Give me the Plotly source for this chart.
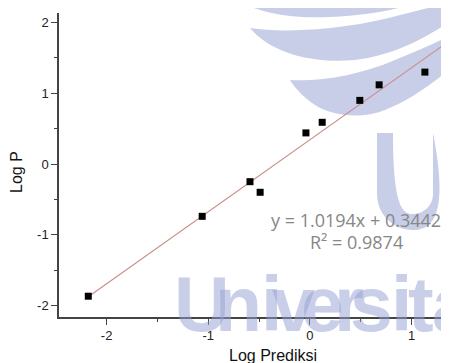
import plotly.graph_objects as go

# ---- data ----
log_prediksi = [-2.18, -1.06, -0.59, -0.49, -0.04, 0.12, 0.49, 0.68, 1.13]
log_p = [-1.87, -0.74, -0.25, -0.40, 0.44, 0.59, 0.90, 1.12, 1.30]
slope = 1.0194
intercept = 0.3442
r_squared = 0.9874
x_ticks = [-2, -1, 0, 1]
y_ticks = [-2, -1, 0, 1, 2]

# page is shown with the browser's default 8px body margin
OFF = 8
PAGE_W, PAGE_H = 449, 363
X0, X1, Y0, Y1 = 59, 449, 13, 317          # plot area in page pixels
W, H = PAGE_W - OFF, PAGE_H - OFF
ML, MR, MT, MB = X0 - OFF, 0, Y0 - OFF, PAGE_H - Y1


def px(x):
    return (x - X0) / (X1 - X0)


def py(y):
    return (Y1 - y) / (Y1 - Y0)


def path(segs):
    out = []
    for cmd, pts in segs:
        out.append(cmd + " " + " ".join(f"{px(a):.4f},{py(b):.4f}" for a, b in pts))
    return " ".join(out) + " Z"


fit_x = [min(log_prediksi), 1.5]
fit_y = [slope * v + intercept for v in fit_x]

fig = go.Figure()
fig.add_trace(go.Scatter(x=fit_x, y=fit_y, mode="lines",
                         line=dict(color="#c98c88", width=1.1),
                         hoverinfo="skip", showlegend=False))
fig.add_trace(go.Scatter(x=log_prediksi, y=log_p, mode="markers",
                         marker=dict(symbol="square", size=7, color="black"),
                         showlegend=False))

# faint watermark logo (decoration)
wm = "#c9cee8"
logo = [
    [("M", [(238, 0)]), ("C", [(255, 12), (290, 19), (330, 17)]),
     ("C", [(370, 15), (400, 10), (420, 0)])],
    [("M", [(250, 28)]), ("C", [(280, 33), (330, 30), (370, 22)]),
     ("C", [(400, 16), (425, 8), (449, 3)]), ("L", [(449, 22)]),
     ("C", [(425, 38), (395, 55), (355, 60)]),
     ("C", [(310, 64), (270, 52), (250, 28)])],
    [("M", [(290, 80)]), ("C", [(320, 82), (360, 75), (395, 60)]),
     ("C", [(420, 50), (438, 42), (449, 36)]), ("L", [(449, 70)]),
     ("C", [(430, 85), (410, 100), (385, 110)]),
     ("C", [(360, 120), (330, 115), (315, 105)]),
     ("C", [(303, 97), (295, 88), (290, 80)])],
    [("M", [(377, 133)]), ("L", [(393, 133), (393, 194)]),
     ("C", [(393, 205), (402, 214), (413, 214)]),
     ("C", [(424, 214), (433, 205), (433, 194)]),
     ("L", [(433, 133), (449, 133), (449, 194)]),
     ("C", [(449, 214), (433, 230), (413, 230)]),
     ("C", [(393, 230), (377, 214), (377, 194)])],
]
shapes = [dict(type="path", xref="paper", yref="paper", path=path(s),
               fillcolor=wm, line=dict(width=0), layer="below") for s in logo]

font_ax = "Liberation Sans, Arial, sans-serif"
eq_font = dict(family="Open Sans, sans-serif", size=18, color="#878787")


def note(text, x, y, font, **kw):
    return dict(text=text, x=px(x), y=py(y), xref="paper", yref="paper",
                xanchor="center", yanchor="middle", showarrow=False,
                font=font, **kw)


annotations = [
    note("Log Prediksi", 273, 355, dict(family=font_ax, size=16, color="#111")),
    note("Log P", 16, 172, dict(family=font_ax, size=16, color="#111"), textangle=-90),
    note(f"y = {slope:.4f}x + {intercept:.4f}", 356, 220, eq_font),
    note(f"R² = {r_squared:.4f}", 356, 242, eq_font),
]

wm_letters = list("Universita")
wm_centers = [202, 238, 271, 293, 322, 349, 371, 401, 421, 454]
wm_font = dict(family="Liberation Sans, Arial, sans-serif", size=77,
               color="rgba(150,160,212,0.5)")
for ch, cx in zip(wm_letters, wm_centers):
    annotations.append(note(f"<b>{ch}</b>", cx, 304, wm_font))

axis_common = dict(showgrid=False, zeroline=False, showline=True,
                   linecolor="#444", linewidth=1.5, ticks="outside",
                   ticklen=6, tickwidth=1.3, tickcolor="#444",
                   tickfont=dict(family=font_ax, size=13, color="#222"),
                   minor=dict(ticks="outside", ticklen=3, tickwidth=1.1,
                              tickcolor="#444", dtick=0.5, showgrid=False))

fig.update_layout(
    width=W, height=H,
    margin=dict(l=ML, r=MR, t=MT, b=MB),
    paper_bgcolor="white", plot_bgcolor="white",
    shapes=shapes, annotations=annotations,
    xaxis=dict(range=[-2.468, 1.367], tickvals=x_ticks,
               ticktext=[f"{v}" for v in x_ticks], **axis_common),
    yaxis=dict(range=[-2.164, 2.136], tickvals=y_ticks,
               ticktext=[f"{v}" for v in y_ticks], **axis_common),
)

fig.write_html("out.html")
